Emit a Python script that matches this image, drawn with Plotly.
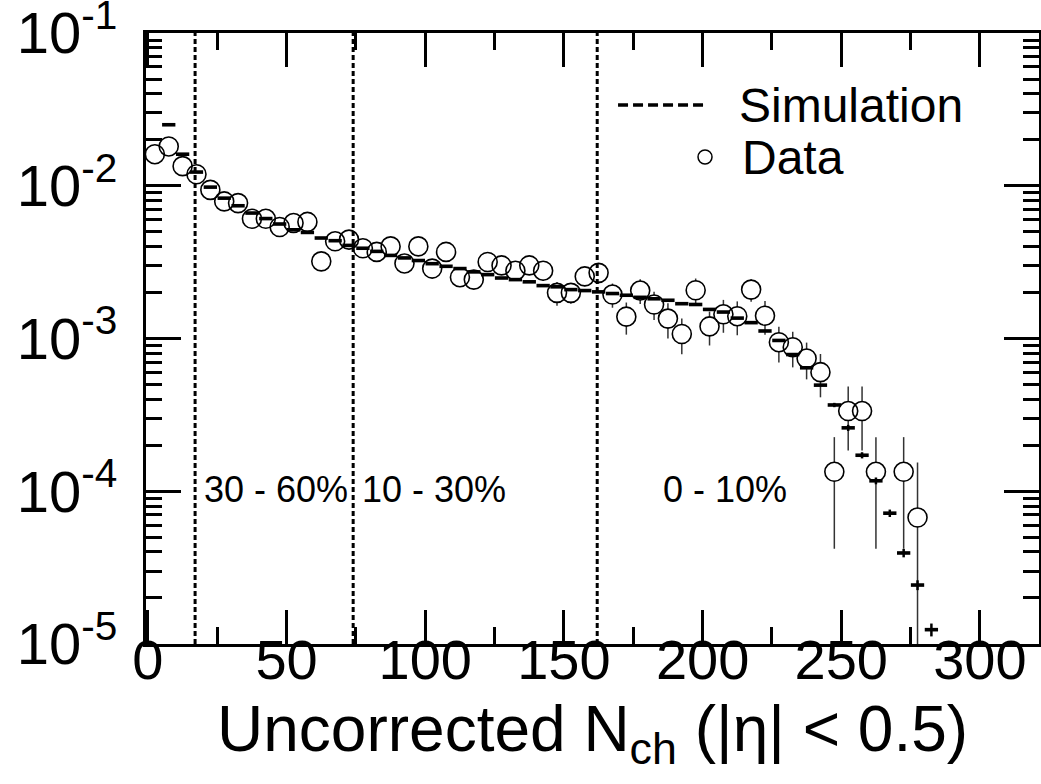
import plotly.graph_objects as go

# ---------------- data ----------------
data_x = [2.5, 7.5, 12.5, 17.5, 22.5, 27.5, 32.5, 37.5, 42.5, 47.5,
          52.5, 57.5, 62.5, 67.5, 72.5, 77.5, 82.5, 87.5, 92.5, 97.5,
          102.5, 107.5, 112.5, 117.5, 122.5, 127.5, 132.5, 137.5, 142.5, 147.5,
          152.5, 157.5, 162.5, 167.5, 172.5, 177.5, 182.5, 187.5, 192.5, 197.5,
          202.5, 207.5, 212.5, 217.5, 222.5, 227.5, 232.5, 237.5, 242.5, 247.5,
          252.5, 257.5, 262.5, 272.5, 277.5]
data_y = [0.0161, 0.0181, 0.01345, 0.0119, 0.0094, 0.0079, 0.0077, 0.00608, 0.00608, 0.00537,
          0.0057, 0.0058, 0.0032, 0.00433, 0.00444, 0.0039, 0.00369, 0.00401, 0.0031, 0.00401,
          0.00287, 0.00369, 0.00252, 0.00243, 0.00317, 0.00301, 0.00278, 0.00301, 0.00278, 0.00199,
          0.00199, 0.00255, 0.00269, 0.00194, 0.00139, 0.00206, 0.00167, 0.00135, 0.00107, 0.00207,
          0.0012, 0.00144, 0.0014, 0.00209, 0.00141, 0.000946, 0.000877, 0.00074, 0.000602, 0.000134,
          0.000335, 0.000335, 0.000134, 0.000134, 0.0000673]
data_err = [0.0005, 0.0005, 0.0004, 0.0004, 0.0003, 0.00025, 0.00025, 0.0002, 0.0002, 0.0002,
            0.0002, 0.0002, 0.00015, 0.0002, 0.0002, 0.0002, 0.0002, 0.00022, 0.00025, 0.00028,
            0.00035, 0.0003, 0.0003, 0.0003, 0.00035, 0.0003, 0.0003, 0.0003, 0.0004, 0.00035,
            0.0003, 0.00035, 0.0004, 0.00035, 0.00033, 0.00038, 0.00035, 0.00035, 0.00028, 0.0004,
            0.0003, 0.00035, 0.00035, 0.00035, 0.00035, 0.00025, 0.00023, 0.0002, 0.00019, 0.000092,
            0.00015, 0.00015, 0.000092, 0.000092, 0.000087]

sim_x = [7.5, 12.5, 17.5, 22.5, 27.5, 32.5, 37.5, 42.5, 47.5, 52.5,
         57.5, 62.5, 67.5, 72.5, 77.5, 82.5, 87.5, 92.5, 97.5, 102.5,
         107.5, 112.5, 117.5, 122.5, 127.5, 132.5, 137.5, 142.5, 147.5, 152.5,
         157.5, 162.5, 167.5, 172.5, 177.5, 182.5, 187.5, 192.5, 197.5, 202.5,
         207.5, 212.5, 217.5, 222.5, 227.5, 232.5, 237.5, 242.5, 247.5, 252.5,
         257.5, 262.5, 267.5, 272.5, 277.5, 282.5]
sim_y = [0.0251, 0.0161, 0.0123, 0.0098, 0.0083, 0.0074, 0.00663, 0.0061, 0.00562, 0.00515,
         0.00495, 0.00455, 0.00437, 0.00407, 0.0039, 0.00372, 0.0035, 0.00337, 0.00324, 0.00309,
         0.00297, 0.00287, 0.00273, 0.00262, 0.00249, 0.00243, 0.00235, 0.00222, 0.00218, 0.00209,
         0.00206, 0.00202, 0.00197, 0.00192, 0.00186, 0.00182, 0.00178, 0.00169, 0.00167, 0.00155,
         0.00149, 0.00136, 0.00127, 0.00112, 0.000971, 0.000785, 0.000643, 0.000495, 0.000367, 0.00026,
         0.000172, 0.000117, 0.0000718, 0.0000394, 0.0000243, 0.0000124]
sim_err = [0, 0, 0, 0, 0, 0, 0, 0, 0, 0,
           0, 0, 0, 0, 0, 0, 0, 0, 0, 0,
           0, 0, 0, 0, 0, 0, 0, 0, 0, 0,
           0, 0, 0, 0, 0, 0, 0, 0, 0, 0,
           0, 0, 0, 0, 0, 0, 0, 0, 0.000012, 0.000012,
           0.000008, 0.000006, 0.000004, 0.0000025, 0.0000018, 0.0000012]

cut_x = [17, 74, 162]
cut_labels = ["30 - 60%", "10 - 30%", "0 - 10%"]
cut_label_x = [19.5, 76.5, 208.0]
cut_label_anchor = ["left", "left", "center"]

x_tickvals = [0, 50, 100, 150, 200, 250, 300]
y_tickvals = [1e-5, 1e-4, 1e-3, 1e-2, 1e-1]
y_ticktext = ["10<sup>-5</sup>", "10<sup>-4</sup>", "10<sup>-3</sup>",
              "10<sup>-2</sup>", "10<sup>-1</sup>"]
y_minor = [m * 10.0 ** e for e in range(-5, -1) for m in range(2, 10)]

x_title = "Uncorrected N<sub>ch</sub> (|η| &lt; 0.5)"

FONT = "Liberation Sans, Arial, Helvetica, sans-serif"

fig = go.Figure()

# data error bars (drawn first, hidden inside circles)
fig.add_trace(go.Scatter(
    x=data_x, y=data_y, mode="markers",
    marker=dict(size=2, color="rgba(0,0,0,0)"),
    error_y=dict(type="data", array=data_err, color="#333333", thickness=1.5, width=0),
    hoverinfo="skip", showlegend=False))
# white interiors of the data circles
fig.add_trace(go.Scatter(
    x=data_x, y=data_y, mode="markers",
    marker=dict(symbol="circle", size=18, color="white", line=dict(width=0)),
    hoverinfo="skip", showlegend=False))
# open circle outlines
fig.add_trace(go.Scatter(
    x=data_x, y=data_y, mode="markers", name="Data",
    marker=dict(symbol="circle-open", size=19, color="black", line=dict(width=1.6, color="black")),
    showlegend=False))
# simulation histogram bins
fig.add_trace(go.Scatter(
    x=sim_x, y=sim_y, mode="markers", name="Simulation",
    marker=dict(symbol="line-ew", size=9.5, color="black", line=dict(width=3.6, color="black")),
    error_y=dict(type="data", array=sim_err, color="black", thickness=2.5, width=0),
    showlegend=False))

# centrality cut lines
for cx in cut_x:
    fig.add_shape(type="line", xref="x", yref="paper", x0=cx, x1=cx, y0=0, y1=1,
                  line=dict(color="black", width=3, dash="5px,3px"), layer="above")

for lab, lx, anc in zip(cut_labels, cut_label_x, cut_label_anchor):
    fig.add_annotation(x=lx, y=-3.99, xref="x", yref="y", text=lab, showarrow=False,
                       xanchor=anc, yanchor="middle", font=dict(family=FONT, size=36, color="black"))

# legend (manual)
fig.add_shape(type="line", xref="paper", yref="paper", x0=0.5286, x1=0.629, y0=0.882, y1=0.882,
              line=dict(color="black", width=3.5, dash="10px,5px"))
fig.add_shape(type="circle", xref="paper", yref="paper", xsizemode="pixel", ysizemode="pixel",
              xanchor=0.626, yanchor=0.797, x0=-7, x1=7, y0=-7, y1=7,
              line=dict(color="black", width=1.5), fillcolor="white")
fig.add_annotation(x=0.662, y=0.882, xref="paper", yref="paper", text="Simulation",
                   showarrow=False, xanchor="left", yanchor="middle",
                   font=dict(family=FONT, size=48, color="black"))
fig.add_annotation(x=0.6652, y=0.797, xref="paper", yref="paper", text="Data",
                   showarrow=False, xanchor="left", yanchor="middle",
                   font=dict(family=FONT, size=48, color="black"))

# x-axis title as an annotation (placed like the reference)
fig.add_annotation(x=0.5, y=-0.145, xref="paper", yref="paper", text=x_title,
                   showarrow=False, xanchor="center", yanchor="middle",
                   font=dict(family=FONT, size=64, color="black"))

fig.update_layout(
    width=1041, height=784,
    margin=dict(l=146, r=2, t=33, b=140, autoexpand=False),
    paper_bgcolor="white", plot_bgcolor="white",
    showlegend=False,
    font=dict(family=FONT, color="black"),
    xaxis=dict(
        range=[-0.7, 321.3], tickmode="array", tickvals=x_tickvals,
        ticks="inside", ticklen=34, tickwidth=2.5, tickcolor="black",
        minor=dict(ticks="inside", ticklen=17, tickwidth=2.5, tickcolor="black", dtick=25, tick0=0),
        showline=True, linewidth=3, linecolor="black", mirror="ticks",
        showgrid=False, zeroline=False, automargin=False,
        tickfont=dict(family=FONT, size=56, color="black"),
        ticklabelstandoff=-35, ticklabeloverflow="allow",
    ),
    yaxis=dict(
        type="log", range=[-5.0005, -0.9995], tickmode="array", tickvals=y_tickvals, ticktext=y_ticktext,
        ticks="inside", ticklen=35, tickwidth=2.5, tickcolor="black",
        minor=dict(ticks="inside", ticklen=16, tickwidth=2.5, tickcolor="black",
                   tickmode="array", tickvals=y_minor),
        showline=True, linewidth=3, linecolor="black", mirror="ticks",
        showgrid=False, zeroline=False, automargin=False,
        tickfont=dict(family=FONT, size=58, color="black"),
        ticklabelstandoff=14, ticklabeloverflow="allow",
    ),
)

fig.write_html("out.html")
